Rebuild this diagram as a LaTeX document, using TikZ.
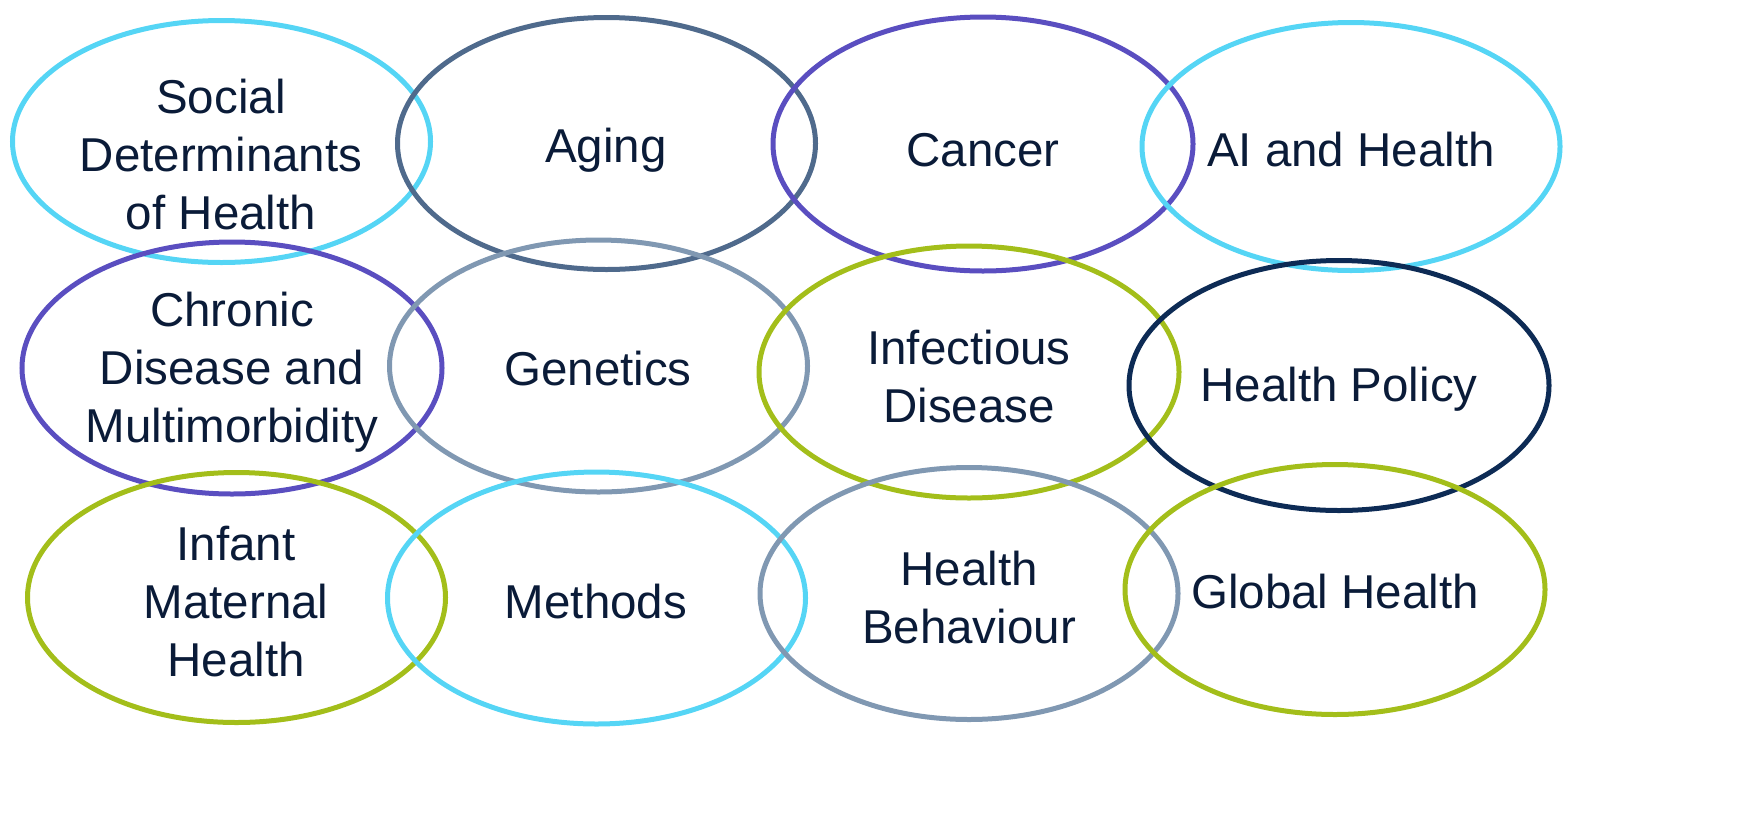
\documentclass[tikz,border=0pt]{standalone}
\usepackage{fontspec}
\setmainfont{Liberation Sans}
\usetikzlibrary{shapes.geometric}
\definecolor{ccyan}{HTML}{55D5F5}
\definecolor{cslate}{HTML}{4F6A8C}
\definecolor{cpurple}{HTML}{5A4EC0}
\definecolor{cgreen}{HTML}{A3BE1A}
\definecolor{cgrey}{HTML}{8098B2}
\definecolor{cnavy}{HTML}{0D2B55}
\definecolor{ctext}{HTML}{0A1B38}
\tikzset{
  oval/.style={ellipse, draw=#1, line width=5pt, inner sep=0pt, outer sep=0pt},
  lbl/.style={align=center, text=ctext, inner sep=0pt, font=\fontsize{47.5pt}{58pt}\selectfont}
}
\begin{document}
\begin{tikzpicture}[x=1pt,y=-1pt]
\useasboundingbox (0,0) rectangle (1758,815);
% row 1
\node[oval=ccyan, minimum width=418pt, minimum height=242pt] (e1) at (221.5,141.5) {};
\node[oval=cslate, minimum width=418pt, minimum height=252pt] (e2) at (606.5,143.5) {};
\node[oval=cpurple, minimum width=420pt, minimum height=254pt] (e3) at (983,144) {};
\node[oval=ccyan, minimum width=418pt, minimum height=248pt] (e4) at (1351,146.5) {};
% row 2
\node[oval=cpurple, minimum width=420pt, minimum height=252pt] (e5) at (232,368) {};
\node[oval=cgrey, minimum width=418pt, minimum height=252pt] (e6) at (598.5,366) {};
\node[oval=cgreen, minimum width=420pt, minimum height=252pt] (e7) at (969,372) {};
\node[oval=cnavy, minimum width=420pt, minimum height=250pt] (e8) at (1339,385.5) {};
% row 3
\node[oval=cgreen, minimum width=418pt, minimum height=250pt] (e9) at (236.5,597.5) {};
\node[oval=ccyan, minimum width=418pt, minimum height=252pt] (e10) at (596.5,598) {};
\node[oval=cgrey, minimum width=418pt, minimum height=252pt] (e11) at (969,593.5) {};
\node[oval=cgreen, minimum width=420pt, minimum height=250pt] (e12) at (1335,589.5) {};
% labels
\node[lbl] (t1) at (221,155) {Social\\Determinants\\of Health};
\node[lbl] (t2) at (606,150) {Aging};
\node[lbl] (t3) at (983,150) {Cancer};
\node[lbl] (t4) at (1351,150) {AI and Health};
\node[lbl] (t5) at (232,372) {Chronic\\Disease and\\Multimorbidity};
\node[lbl] (t6) at (598,369) {Genetics};
\node[lbl] (t7) at (969,377) {Infectious\\Disease};
\node[lbl] (t8) at (1339,389) {Health Policy};
\node[lbl] (t9) at (236,602) {Infant\\Maternal\\Health};
\node[lbl] (t10) at (596,602) {Methods};
\node[lbl] (t11) at (969,598) {Health\\Behaviour};
\node[lbl] (t12) at (1335,592) {Global Health};
\end{tikzpicture}
\end{document}
